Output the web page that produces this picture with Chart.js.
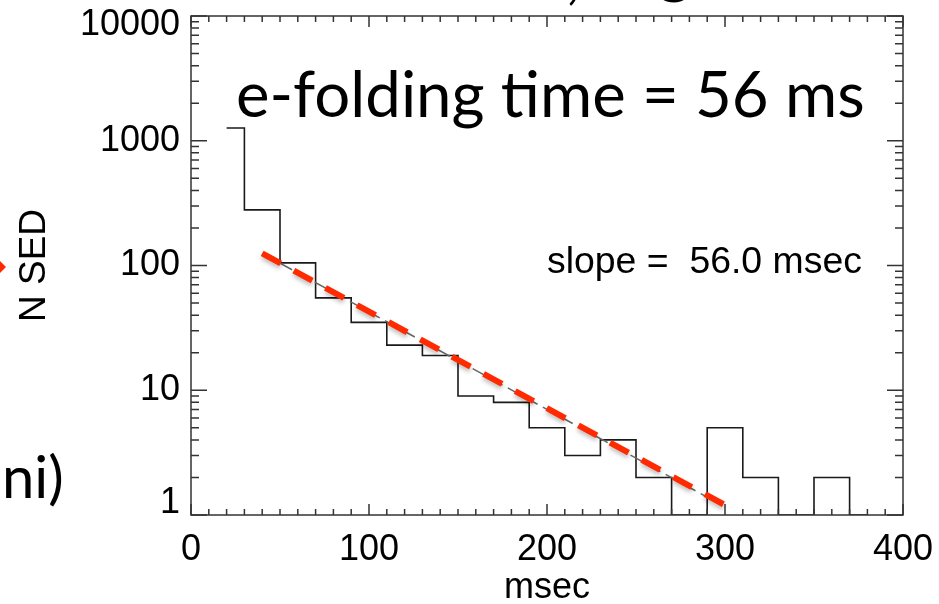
<!DOCTYPE html>
<html>
<head>
<meta charset="utf-8">
<script src="https://cdn.jsdelivr.net/npm/chart.js@4.4.1/dist/chart.umd.min.js"></script>
<style>
    body { margin: 0; background: #fff; }
</style>
</head>
<body>
<canvas id="sedChart" width="939" height="604"></canvas>
<script>
// histogram bin centres (msec) and counts, empty bins sit on the axis floor (1)
var binCenters = [20, 40, 60, 80, 100, 120, 140, 160, 180, 200, 220, 240, 260, 280, 300, 320, 340, 360, 380];
var binCounts = [1265, 279, 105, 55, 35, 23, 19, 9, 8, 5, 3, 4, 2, 1, 5, 2, 1, 2, 1];

// exponential fit: thick red dashed line and the thin grey one under it
var fitX = [40, 300];
var fitY = [125, 1.2];
var fitThinX = [40, 295];
var fitThinY = [125, 1.27];

var xTickLabels = [0, 100, 200, 300, 400];
var yTickLabels = [1, 10, 100, 1000, 10000];

var axisFont = "Liberation Sans, Arial, sans-serif";
var slideFont = "Lato, sans-serif";

function pts(xs, ys) {
    return xs.map(function (x, i) { return { x: x, y: ys[i] }; });
}

// IDL style box with inward ticks on all four sides
var boxTicks = {
    id: "boxTicks",
    beforeDraw: function (chart) {
        // end labels of the y axis sit inside the axis range, like the IDL plot
        var y = chart.scales.y;
        if (y && y.getLabelItems) {
            var items = y.getLabelItems(chart.chartArea);
            if (items.length) {
                items[0].options.translation[1] -= 12;
                items[items.length - 1].options.translation[1] += 9;
            }
        }
    },
    beforeDatasetDraw: function (chart, args) {
        if (args.index === 2) {
            var ctx = chart.ctx;
            ctx.save();
            ctx.shadowColor = "rgba(0,0,0,0.25)";
            ctx.shadowBlur = 4;
            ctx.shadowOffsetY = 3;
        }
    },
    afterDatasetDraw: function (chart, args) {
        if (args.index === 2) chart.ctx.restore();
    },
    afterDraw: function (chart) {
        var ctx = chart.ctx;
        var a = chart.chartArea;
        var xs = chart.scales.x, ys = chart.scales.y;
        ctx.save();
        ctx.strokeStyle = "#333";
        ctx.lineWidth = 1.5;
        ctx.strokeRect(a.left, a.top, a.right - a.left, a.bottom - a.top);

        ctx.beginPath();
        for (var v = 0; v <= 400; v += 10) {
            var len = v % 100 === 0 ? 11 : 6;
            var px = xs.getPixelForValue(v);
            ctx.moveTo(px, a.bottom); ctx.lineTo(px, a.bottom - len);
            ctx.moveTo(px, a.top); ctx.lineTo(px, a.top + len);
        }
        for (var d = 1; d <= 10000; d *= 10) {
            for (var m = 1; m <= 9; m++) {
                var val = d * m;
                if (val > 10000) break;
                var l2 = m === 1 ? 16 : 8;
                var py = ys.getPixelForValue(val);
                ctx.moveTo(a.left, py); ctx.lineTo(a.left + l2, py);
                ctx.moveTo(a.right, py); ctx.lineTo(a.right - l2, py);
            }
        }
        ctx.stroke();

        // slide annotations
        ctx.fillStyle = "#000";
        ctx.textBaseline = "alphabetic";
        ctx.textAlign = "left";
        var big = "e-folding time = 56 ms";
        ctx.font = "66px " + slideFont;
        var size = 66 * 629 / ctx.measureText(big).width;
        ctx.font = size.toFixed(1) + "px " + slideFont;
        ctx.fillText(big, 236, 117);

        var slope = "slope =  56.0 msec";
        ctx.font = "33px " + axisFont;
        var s2 = 33 * 315 / ctx.measureText(slope).width;
        ctx.font = s2.toFixed(1) + "px " + axisFont;
        ctx.fillText(slope, 547, 273);

        ctx.font = "58px " + slideFont;
        ctx.fillText("ni)", 2, 498);

        // bottom of the slide title, cut off by the frame
        ctx.font = size.toFixed(1) + "px " + slideFont;
        ctx.fillText(",", 566, -3);
        ctx.fillText("g", 658, -9);

        ctx.fillStyle = "#ff2a00";
        ctx.beginPath();
        ctx.moveTo(0, 261); ctx.lineTo(6, 267); ctx.lineTo(0, 273);
        ctx.closePath();
        ctx.fill();
        ctx.restore();
    }
};

var ctx = document.getElementById("sedChart").getContext("2d");

new Chart(ctx, {
    type: "line",
    data: {
        datasets: [
            {
                label: "N SED",
                data: pts(binCenters, binCounts),
                stepped: "middle",
                borderColor: "#1a1a1a",
                borderWidth: 1.6,
                pointRadius: 0,
                fill: false,
                order: 2
            },
            {
                label: "fit",
                data: pts(fitThinX, fitThinY),
                borderColor: "#666",
                borderWidth: 1.5,
                borderDash: [14, 6],
                pointRadius: 0,
                fill: false,
                order: 1
            },
            {
                label: "fit (dashed)",
                data: pts(fitX, fitY),
                borderColor: "#ff2a00",
                borderWidth: 6,
                borderDash: [21, 15],
                borderCapStyle: "butt",
                pointRadius: 0,
                fill: false,
                order: 0
            }
        ]
    },
    options: {
        responsive: false,
        animation: false,
        layout: { padding: { left: 16, right: 36, top: 16, bottom: 0 } },
        plugins: {
            legend: { display: false },
            tooltip: { enabled: false }
        },
        scales: {
            x: {
                type: "linear",
                min: 0,
                max: 400,
                afterBuildTicks: function (scale) {
                    scale.ticks = xTickLabels.map(function (v) { return { value: v }; });
                },
                ticks: {
                    color: "#000",
                    padding: 13,
                    maxRotation: 0,
                    font: { family: axisFont, size: 36 },
                    callback: function (value) { return String(value); }
                },
                grid: { display: false, drawTicks: false },
                border: { display: false },
                title: {
                    display: true,
                    text: "msec",
                    color: "#000",
                    padding: 0,
                    font: { family: axisFont, size: 36, lineHeight: 0.9 }
                },
                afterFit: function (scale) {
                    scale.height = 89;
                    scale.paddingLeft = 0;
                    scale.paddingRight = 0;
                }
            },
            y: {
                type: "logarithmic",
                min: 1,
                max: 10000,
                afterBuildTicks: function (scale) {
                    scale.ticks = yTickLabels.map(function (v) { return { value: v }; });
                },
                ticks: {
                    color: "#000",
                    padding: 11,
                    font: { family: axisFont, size: 36 },
                    callback: function (value) { return String(value); }
                },
                grid: { display: false, drawTicks: false },
                border: { display: false },
                title: {
                    display: true,
                    text: "N SED",
                    color: "#000",
                    padding: 0,
                    font: { family: axisFont, size: 37, lineHeight: 1 }
                },
                afterFit: function (scale) {
                    scale.width = 175;
                    scale.paddingTop = 0;
                    scale.paddingBottom = 0;
                }
            }
        }
    },
    plugins: [boxTicks]
});
</script>
</body>
</html>
